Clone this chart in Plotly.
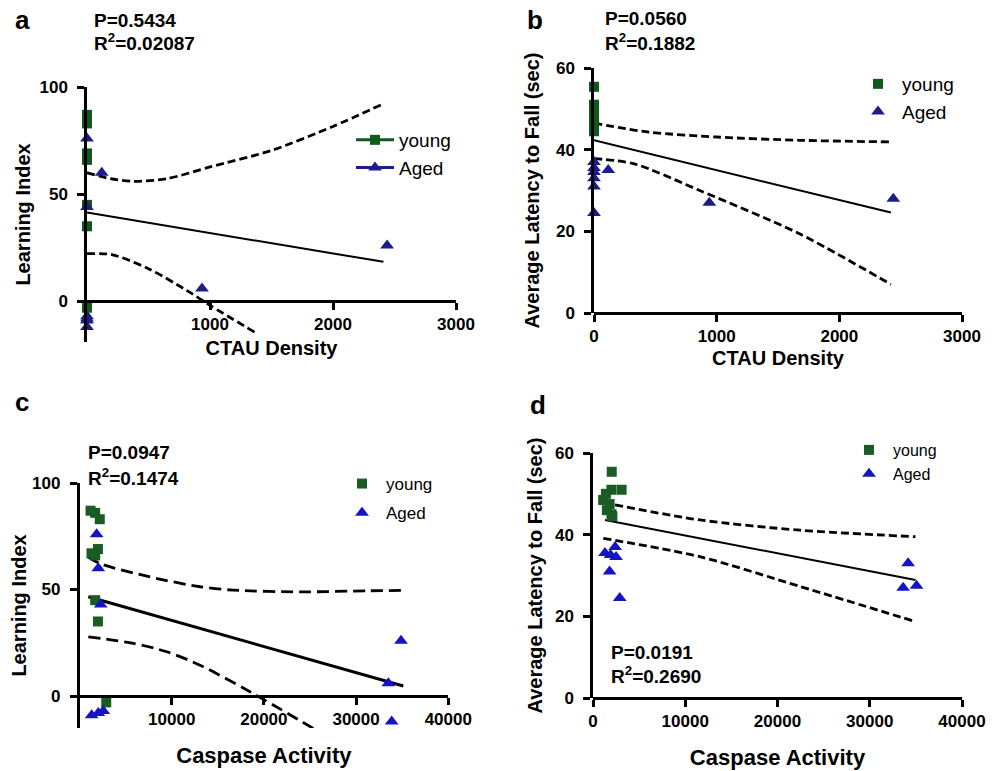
import plotly.graph_objects as go

FONT = "Liberation Sans, Arial, Helvetica, sans-serif"
W, H = 998, 771

# ---------------- data ----------------
# Panel a: CTAU density vs learning index
a_young_x = [0, 0, 0, 0, 0, 0, 0, 0, 0]
a_young_y = [87, 86, 83, 67, 69, 66, 45, 35, -3]
a_aged_x = [0, 120, 0, 0, 0, 0, 935, 0, 2440]
a_aged_y = [76, 60, 44, -9, -8, -7, 6, -12, 26]
a_fit_x = [0, 2410]
a_fit_y = [41.4, 18.4]
a_up_x = [0, 190, 375, 650, 1000, 1500, 2000, 2410]
a_up_y = [60, 57.2, 56, 57.2, 62.7, 70.4, 81.6, 92.2]
a_lo_x = [0, 200, 500, 810, 1000, 1380]
a_lo_y = [22.2, 21.8, 15.2, 5.1, -1.9, -15]

# Panel b: CTAU density vs latency
b_young_x = [0, 0, 0, 0, 0, 0, 0, 0, 0]
b_young_y = [55.4, 51, 50.5, 48.5, 47.5, 46, 45, 44.5, 50]
b_aged_x = [0, 116, 0, 0, 0, 0, 0, 940, 2440]
b_aged_y = [35.5, 35, 37, 34.5, 31, 24.5, 33, 27, 28]
b_fit_x = [0, 2420]
b_fit_y = [42.3, 24.6]
b_up_x = [0, 450, 1000, 1675, 2420]
b_up_y = [46.5, 44.3, 43.1, 42.3, 41.9]
b_lo_x = [0, 320, 862, 1675, 2420]
b_lo_y = [37.8, 36.6, 30, 19.4, 7.0]

# Panel c: caspase activity vs learning index
c_young_x = [1200, 1700, 2200, 1300, 2000, 1700, 1700, 2000, 2900]
c_young_y = [87, 86, 83, 67, 69, 66, 45, 35, -3]
c_aged_x = [1860, 2040, 2300, 1320, 2040, 2580, 33500, 33860, 34870]
c_aged_y = [76, 60, 43, -9, -8, -7, 6, -12, 26]
c_fit_x = [955, 35120]
c_fit_y = [46.6, 4.7]
c_up_x = [900, 2220, 7650, 13070, 16680, 23900, 31150, 35120]
c_up_y = [65.4, 62.2, 55.9, 51.3, 49.7, 48.9, 49.4, 49.6]
c_lo_x = [955, 5840, 9460, 13070, 18490, 25360]
c_lo_y = [27.8, 24.7, 20.8, 14.5, 2, -15.2]

# Panel d: caspase activity vs latency
d_young_x = [2030, 2000, 3100, 1100, 1800, 1500, 2000, 2100, 1400]
d_young_y = [55.4, 51, 51, 48.5, 47.5, 46, 45, 44.5, 50]
d_aged_x = [1300, 1900, 2400, 2500, 1800, 2900, 34160, 33620, 35070]
d_aged_y = [35.5, 35, 37, 34.5, 31, 24.5, 33, 27, 27.5]
d_fit_x = [1300, 34960]
d_fit_y = [43.6, 28.9]
d_up_x = [2390, 11590, 22460, 34960]
d_up_y = [47.3, 43.6, 41.1, 39.5]
d_lo_x = [1120, 11590, 22460, 34960]
d_lo_y = [39.1, 34.6, 27.3, 18.7]

stats_a = ["P=0.5434", "R<sup>2</sup>=0.02087"]
stats_b = ["P=0.0560", "R<sup>2</sup>=0.1882"]
stats_c = ["P=0.0947", "R<sup>2</sup>=0.1474"]
stats_d = ["P=0.0191", "R<sup>2</sup>=0.2690"]

# ---------------- styling / layout helpers ----------------
def PX(px):
    return px / W

def PY(py):
    return 1 - py / H

GREEN_AB = "#0e5a1c"
BLUE_AB = "#1c1c8a"
GREEN_CD = "#1a5c24"
BLUE_CD = "#1414c4"

panels = {
    "a": dict(xd=[PX(87), PX(456)], yd=[PY(342), PY(87)], xr=[0, 3000], yr=[-19, 100],
              xt=[1000, 2000, 3000], yt=[0, 50, 100], xtitle="CTAU Density", ytitle="Learning Index",
              xts=20, xstand=7, ystand=4),
    "b": dict(xd=[PX(594), PX(962)], yd=[PY(313), PY(68)], xr=[0, 3000], yr=[0, 60],
              xt=[0, 1000, 2000, 3000], yt=[0, 20, 40, 60], xtitle="CTAU Density",
              ytitle="Average Latency to Fall (sec)", xts=20, xstand=5, ystand=11),
    "c": dict(xd=[PX(79.5), PX(448.3)], yd=[PY(728), PY(483)], xr=[0, 40000], yr=[-15, 100],
              xt=[10000, 20000, 30000, 40000], yt=[0, 50, 100], xtitle="Caspase Activity",
              ytitle="Learning Index", xts=22, xstand=19, ystand=0),
    "d": dict(xd=[PX(593), PX(962)], yd=[PY(698), PY(453)], xr=[0, 40000], yr=[0, 60],
              xt=[0, 10000, 20000, 30000, 40000], yt=[0, 20, 40, 60], xtitle="Caspase Activity",
              ytitle="Average Latency to Fall (sec)", xts=22, xstand=19, ystand=7),
}

fig = go.Figure()
layout = dict(width=W, height=H, margin=dict(l=0, r=0, t=0, b=0, autoexpand=False),
              paper_bgcolor="white", plot_bgcolor="white", showlegend=True)

tickfont = dict(family=FONT, size=17, color="black", weight="bold")
for i, key in enumerate(["a", "b", "c", "d"]):
    p = panels[key]
    n = "" if i == 0 else str(i + 1)
    y0, y1 = p["yd"]
    pos = y0 + (0 - p["yr"][0]) / (p["yr"][1] - p["yr"][0]) * (y1 - y0)
    common = dict(showline=True, linecolor="black", linewidth=2.5, ticks="outside", ticklen=7,
                  tickwidth=2.5, tickcolor="black", showgrid=False, zeroline=False,
                  tickfont=tickfont, fixedrange=True, automargin=False)
    layout["xaxis" + n] = dict(common, domain=p["xd"], range=p["xr"], tickvals=p["xt"],
                               tickformat="d", anchor="free", position=pos,
                               title=dict(text=p["xtitle"], standoff=p["xstand"],
                                          font=dict(family=FONT, size=p["xts"], color="black", weight="bold")))
    layout["yaxis" + n] = dict(common, domain=p["yd"], range=p["yr"], tickvals=p["yt"],
                               anchor="x" + n, ticklabelstandoff=6,
                               title=dict(text=p["ytitle"], standoff=p["ystand"],
                                          font=dict(family=FONT, size=20, color="black", weight="bold")))


def add_panel(idx, yx, yy, ax, ay, fx, fy, ux, uy, lx, ly, green, blue, msize, tsize,
              fitw, dash, legname, legend_lines):
    n = "" if idx == 0 else str(idx + 1)
    xa, ya = "x" + n, "y" + n
    for xs, ys in ((ux, uy), (lx, ly)):
        fig.add_trace(go.Scatter(x=xs, y=ys, mode="lines", line=dict(color="black", width=2.8, dash=dash,
                                                                     shape="spline", smoothing=0.8),
                                 xaxis=xa, yaxis=ya, showlegend=False, hoverinfo="skip"))
    fig.add_trace(go.Scatter(x=fx, y=fy, mode="lines", line=dict(color="black", width=fitw),
                             xaxis=xa, yaxis=ya, showlegend=False, hoverinfo="skip"))
    show = not legend_lines
    fig.add_trace(go.Scatter(x=yx, y=yy, mode="markers", name="young",
                             marker=dict(symbol="square", size=msize, color=green),
                             cliponaxis=False, xaxis=xa, yaxis=ya, showlegend=show, legend=legname,
                             legendgroup=legname + "y"))
    fig.add_trace(go.Scatter(x=ax, y=ay, mode="markers", name="Aged",
                             marker=dict(symbol="triangle-up", size=tsize, color=blue),
                             cliponaxis=False, xaxis=xa, yaxis=ya, showlegend=show, legend=legname,
                             legendgroup=legname + "a"))
    if legend_lines:
        fig.add_trace(go.Scatter(x=[None], y=[None], mode="lines+markers", name="young",
                                 marker=dict(symbol="square", size=msize, color=green),
                                 line=dict(color=green, width=3),
                                 xaxis=xa, yaxis=ya, legend=legname, legendgroup=legname + "y"))
        fig.add_trace(go.Scatter(x=[None], y=[None], mode="lines+markers", name="Aged",
                                 marker=dict(symbol="triangle-up", size=tsize, color=blue),
                                 line=dict(color=blue, width=3),
                                 xaxis=xa, yaxis=ya, legend=legname, legendgroup=legname + "a"))


add_panel(0, a_young_x, a_young_y, a_aged_x, a_aged_y, a_fit_x, a_fit_y, a_up_x, a_up_y,
          a_lo_x, a_lo_y, GREEN_AB, BLUE_AB, 10, 12, 2, "8px,4px", "legend", True)
add_panel(1, b_young_x, b_young_y, b_aged_x, b_aged_y, b_fit_x, b_fit_y, b_up_x, b_up_y,
          b_lo_x, b_lo_y, GREEN_AB, BLUE_AB, 10, 12, 2, "8px,4px", "legend2", False)
add_panel(2, c_young_x, c_young_y, c_aged_x, c_aged_y, c_fit_x, c_fit_y, c_up_x, c_up_y,
          c_lo_x, c_lo_y, GREEN_CD, BLUE_CD, 10, 12, 3, "12px,6px", "legend3", False)
add_panel(3, d_young_x, d_young_y, d_aged_x, d_aged_y, d_fit_x, d_fit_y, d_up_x, d_up_y,
          d_lo_x, d_lo_y, GREEN_CD, BLUE_CD, 10, 12, 2, "8px,4px", "legend4", False)


def leg(xpx, ypx, size, gap):
    return dict(x=PX(xpx), y=PY(ypx), xanchor="left", yanchor="top", bgcolor="rgba(0,0,0,0)",
                font=dict(family=FONT, size=size, color="black"), tracegroupgap=gap,
                itemclick=False, itemwidth=38)


layout["legend"] = leg(351, 121, 19, 0)
layout["legend2"] = leg(854, 65, 19, 0)
layout["legend3"] = leg(338, 466, 17, 4)
layout["legend4"] = leg(845, 433, 16, 0)

ann = []
for txt, xp, yp in (("a", 22, 20), ("b", 535, 20), ("c", 22, 402), ("d", 538, 405)):
    ann.append(dict(text=txt, x=PX(xp), y=PY(yp), xref="paper", yref="paper", xanchor="center",
                    yanchor="middle", showarrow=False,
                    font=dict(family=FONT, size=26, color="black", weight="bold")))
for st, xp, y1p, y2p in ((stats_a, 92, 20, 42), (stats_b, 603, 18, 42),
                         (stats_c, 86, 452, 477), (stats_d, 609, 652, 675)):
    for txt, yp in ((st[0], y1p), (st[1], y2p)):
        ann.append(dict(text=txt, x=PX(xp), y=PY(yp), xref="paper", yref="paper", xanchor="left",
                        yanchor="middle", showarrow=False,
                        font=dict(family=FONT, size=19, color="black", weight="bold")))
layout["annotations"] = ann

fig.update_layout(**layout)
fig.write_html("out.html", config=dict(displayModeBar=False),
               post_script="document.body.style.margin='0';document.body.style.overflow='hidden';")
